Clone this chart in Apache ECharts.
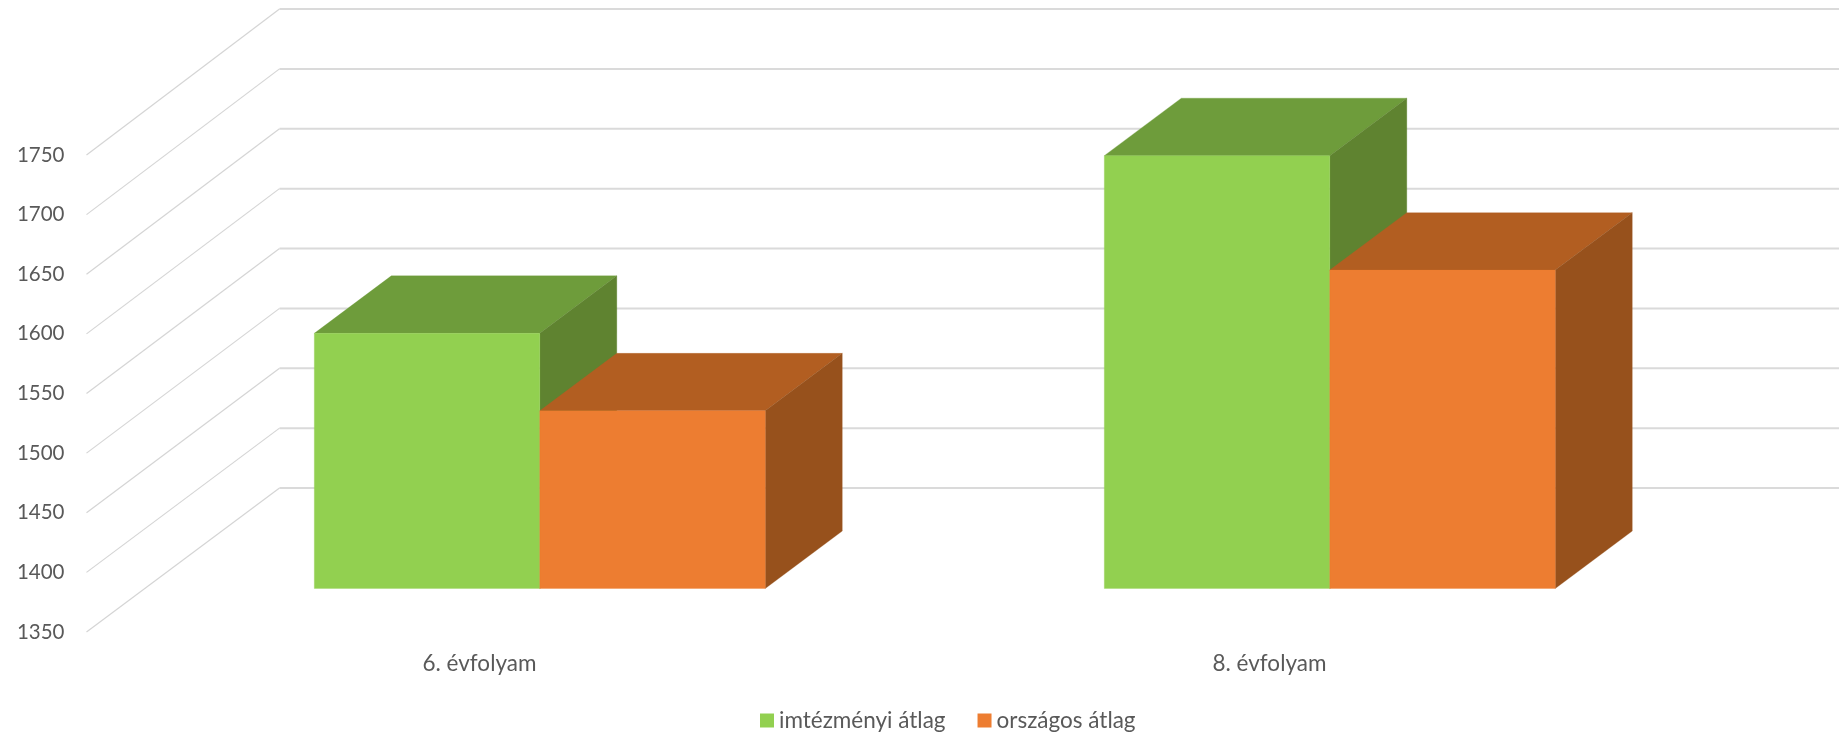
<!DOCTYPE html>
<html>
<head>
<meta charset="utf-8">
<script src="https://cdn.jsdelivr.net/npm/echarts@6/dist/echarts.min.js"></script>
<style>html,body{margin:0;padding:0;background:#fff}#c{width:1839px;height:734px}</style>
</head>
<body>
<div id="c"></div>
<script>
const categories = ['6. évfolyam', '8. évfolyam'];
const seriesNames = ['imtézményi átlag', 'országos átlag'];
const institutionValues = [1564, 1713];
const nationalValues = [1499, 1617];
const yMin = 1350, yMax = 1750, yStep = 50;
const yTicks = [1350, 1400, 1450, 1500, 1550, 1600, 1650, 1700, 1750];

// oblique projection: full depth of the floor in pixels, bar depth as a fraction of it
const DEPTH_X = 193, DEPTH_Y = 144;
const BAR_FRONT = 0.302, BAR_BACK = 0.701, BAR_SHARE = 0.2854;
const greens = {front: '#92D050', top: '#6E9C3B', side: '#5F8330'};
const oranges = {front: '#ED7D31', top: '#B25E21', side: '#97511C'};

function poly(points, fill) {
  return {type: 'polygon', shape: {points}, style: {fill, stroke: fill, lineWidth: 0.3}};
}
function barRenderer(colors, side) {
  return function (params, api) {
    const base = api.coord([api.value(0), yMin]);
    const top = api.coord([api.value(0), api.value(1)]);
    const w = api.size([1, 0])[0] * BAR_SHARE;
    const fx = DEPTH_X * BAR_FRONT, fy = DEPTH_Y * BAR_FRONT;
    const dx = DEPTH_X * (BAR_BACK - BAR_FRONT), dy = DEPTH_Y * (BAR_BACK - BAR_FRONT);
    const l = base[0] + fx + (side < 0 ? -w : 0), r = l + w;
    const b = base[1] - fy, t = top[1] - fy;
    return {type: 'group', children: [
      poly([[l, t], [r, t], [r + dx, t - dy], [l + dx, t - dy]], colors.top),
      poly([[r, t], [r + dx, t - dy], [r + dx, b - dy], [r, b]], colors.side),
      poly([[l, t], [r, t], [r, b], [l, b]], colors.front)
    ]};
  };
}
function wallRenderer(params, api) {
  const v = api.value(1);
  const p = api.coord([0, v]);
  const cs = params.coordSys;
  const rise = DEPTH_Y + 2 * (v - yMin) / (yMax - yMin);
  const bx = cs.x + DEPTH_X, by = p[1] - rise;
  return {type: 'group', silent: true, children: [
    {type: 'line', shape: {x1: cs.x, y1: p[1], x2: bx, y2: by}, style: {stroke: '#D5D5D5', lineWidth: 1.2}},
    {type: 'line', shape: {x1: bx, y1: by, x2: bx + cs.width, y2: by}, style: {stroke: '#DADADA', lineWidth: 2}}
  ]};
}

const chart = echarts.init(document.getElementById('c'));
chart.setOption({
  backgroundColor: '#fff',
  animation: false,
  textStyle: {fontFamily: 'Lato'},
  grid: {left: 86.5, top: 155, width: 1580, height: 477},
  legend: {
    data: seriesNames, left: 760, top: 709, padding: 0, icon: 'rect', itemWidth: 14, itemHeight: 14, itemGap: 32,
    selectedMode: false,
    textStyle: {fontFamily: 'Lato', fontSize: 22.5, color: '#595959'}
  },
  xAxis: {
    type: 'category', data: categories,
    axisLine: {show: false}, axisTick: {show: false}, splitLine: {show: false},
    axisLabel: {fontFamily: 'Lato', fontSize: 22.5, color: '#595959', margin: 20, padding: [0, 4, 0, 0]}
  },
  yAxis: {
    type: 'value', min: yMin, max: yMax, interval: yStep,
    axisLine: {show: false}, axisTick: {show: false}, splitLine: {show: false},
    axisLabel: {fontFamily: 'Lato', fontSize: 20.5, color: '#595959', margin: 22, padding: [8, 0, 0, 0], formatter: v => String(v)}
  },
  series: [
    {type: 'custom', name: 'wall', data: yTicks.map(v => [0, v]), renderItem: wallRenderer, z: 1, silent: true, clip: false},
    {type: 'custom', name: seriesNames[0], itemStyle: {color: greens.front}, z: 2, clip: false,
     data: institutionValues.map((v, i) => [i, v]), renderItem: barRenderer(greens, -1), encode: {x: 0, y: 1}},
    {type: 'custom', name: seriesNames[1], itemStyle: {color: oranges.front}, z: 3, clip: false,
     data: nationalValues.map((v, i) => [i, v]), renderItem: barRenderer(oranges, 1), encode: {x: 0, y: 1}}
  ]
});
</script>
</body>
</html>
